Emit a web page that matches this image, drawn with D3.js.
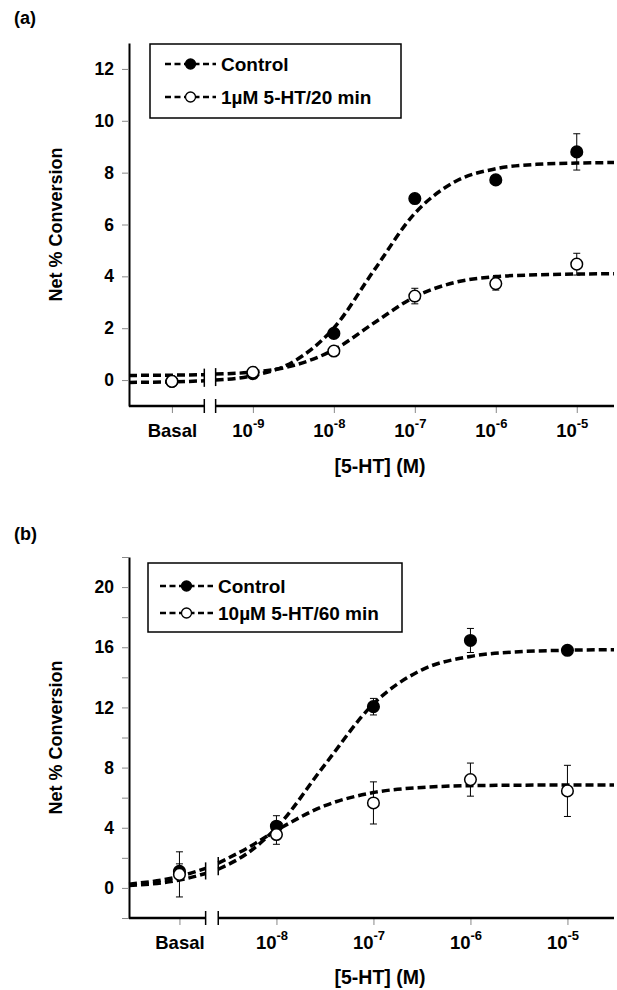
<!DOCTYPE html>
<html lang="en">
<head>
<meta charset="utf-8">
<script src="https://cdnjs.cloudflare.com/ajax/libs/d3/7.8.5/d3.min.js"></script>
<style>
  body { margin: 0; background: #fff; }
  text { font-family: "Liberation Sans", Arial, sans-serif; font-weight: bold; fill: #000; }
</style>
</head>
<body>
<div id="container"></div>
<script>
// ---- data (x values are log10 [5-HT]; Basal sits one decade left of the first dose) ----
var aDoseX = [-10, -9, -8, -7, -6, -5];
var aTickLabels = ["Basal", "-9", "-8", "-7", "-6", "-5"];
var aControl = [-0.05, 0.25, 1.8, 7.0, 7.72, 8.8];
var aControlErr = [0.1, 0.05, 0.15, 0.15, 0.15, 0.7];
var aTreated = [-0.05, 0.3, 1.12, 3.24, 3.72, 4.47];
var aTreatedErr = [0.15, 0.1, 0.15, 0.3, 0.25, 0.42];
var aFitX = [-10.53, -10, -9.6, -9.46, -9, -8.5, -8, -7.5, -7, -6.5, -6, -5.5, -5, -4.54];
var aControlFit = [-0.09, -0.07, -0.03, 0.0, 0.17, 0.71, 2.01, 4.25, 6.43, 7.66, 8.15, 8.32, 8.37, 8.39];
var aTreatedFit = [0.18, 0.19, 0.21, 0.23, 0.31, 0.56, 1.17, 2.21, 3.21, 3.77, 3.99, 4.06, 4.09, 4.1];
var aYTicks = [0, 2, 4, 6, 8, 10, 12];
var aLegend = ["Control", "1\u00b5M 5-HT/20 min"];

var bDoseX = [-9, -8, -7, -6, -5];
var bTickLabels = ["Basal", "-8", "-7", "-6", "-5"];
var bControl = [1.1, 4.1, 12.05, 16.45, 15.8];
var bControlErr = [0.5, 0.7, 0.55, 0.8, 0.2];
var bTreated = [0.9, 3.55, 5.65, 7.2, 6.45];
var bTreatedErr = [1.5, 0.65, 1.4, 1.1, 1.7];
var bFitX = [-9.52, -9, -8.73, -8.6, -8.3, -8, -7.5, -7, -6.5, -6, -5.5, -5, -4.52];
var bControlFit = [0.16, 0.52, 0.96, 1.24, 2.3, 4.0, 8.2, 12.24, 14.5, 15.39, 15.7, 15.8, 15.84];
var bTreatedFit = [0.25, 0.77, 1.3, 1.65, 2.65, 3.82, 5.47, 6.34, 6.68, 6.8, 6.83, 6.84, 6.85];
var bYTicks = [-2, 0, 2, 4, 6, 8, 10, 12, 14, 16, 18, 20, 22];
var bYLabels = [0, 4, 8, 12, 16, 20];
var bLegend = ["Control", "10\u00b5M 5-HT/60 min"];

var w = 617, h = 990;
var svg = d3.select("#container").append("svg")
    .attr("width", w).attr("height", h);

function drawPanel(p) {
    var g = svg.append("g");
    var x = d3.scaleLinear().domain(p.xDomain).range([129, 614]);
    var y = d3.scaleLinear().domain(p.yDomain).range([p.bottom, p.top]);

    g.append("text").attr("x", 14).attr("y", p.labelY)
        .attr("font-size", 18).text(p.label);

    // y axis
    var yAxis = g.append("g").attr("transform", "translate(129,0)")
        .call(d3.axisLeft(y).tickValues(p.yTicks).tickSize(7).tickSizeOuter(0).tickPadding(8)
            .tickFormat(function(d) { return p.yLabels.indexOf(d) >= 0 ? d : ""; }));
    yAxis.select(".domain").attr("stroke", "#000").attr("stroke-width", 2);
    yAxis.selectAll(".tick line").attr("stroke", "#888").attr("stroke-width", 1);
    yAxis.selectAll(".tick text").attr("font-size", 17.5).attr("font-family", null);

    // x axis (ticks only, domain drawn with the break)
    var xAxis = g.append("g").attr("transform", "translate(0," + p.bottom + ")")
        .call(d3.axisBottom(x).tickValues(p.doseX).tickSize(7).tickSizeOuter(0).tickPadding(10)
            .tickFormat(""));
    xAxis.select(".domain").remove();
    xAxis.selectAll(".tick line").attr("stroke", "#888").attr("stroke-width", 1);
    xAxis.selectAll(".tick").append("text")
        .attr("y", 31).attr("font-size", 18.5).attr("text-anchor", "middle")
        .each(function(d, i) {
            var t = d3.select(this), lab = p.tickLabels[i];
            if (lab === "Basal") { t.text("Basal"); return; }
            t.attr("dx", -5);
            t.append("tspan").text("10");
            t.append("tspan").attr("dy", -9).attr("font-size", 13).text(lab);
        });

    var b0 = x(p.brk[0]), b1 = x(p.brk[1]);
    g.append("line").attr("x1", 129).attr("x2", b0).attr("y1", p.bottom).attr("y2", p.bottom)
        .attr("stroke", "#000").attr("stroke-width", 2.5);
    g.append("line").attr("x1", b1).attr("x2", 614).attr("y1", p.bottom).attr("y2", p.bottom)
        .attr("stroke", "#000").attr("stroke-width", 2.5);
    [b0, b1].forEach(function(bx) {
        g.append("line").attr("x1", bx).attr("x2", bx)
            .attr("y1", p.bottom - 7).attr("y2", p.bottom + 7)
            .attr("stroke", "#000").attr("stroke-width", 1.5);
    });

    // fit curves, split at the axis break
    var line = d3.line().x(function(d) { return x(d[0]); }).y(function(d) { return y(d[1]); })
        .curve(d3.curveMonotoneX);
    [p.controlFit, p.treatedFit].forEach(function(fit) {
        var pts = p.fitX.map(function(v, i) { return [v, fit[i]]; });
        var left = pts.filter(function(d) { return d[0] <= p.brk[0] + 1e-9; });
        var right = pts.filter(function(d) { return d[0] >= p.brk[1] - 1e-9; });
        [left, right].forEach(function(seg) {
            g.append("path").attr("d", line(seg)).attr("fill", "none")
                .attr("stroke", "#000").attr("stroke-width", 3.5)
                .attr("stroke-dasharray", "8,4");
        });
    });
    // break marks across the curves
    [0, 1].forEach(function(k) {
        var idx = p.fitX.indexOf(p.brk[k]);
        var ys = [y(p.controlFit[idx]), y(p.treatedFit[idx])];
        var bx = k === 0 ? b0 : b1;
        g.append("line").attr("x1", bx).attr("x2", bx)
            .attr("y1", d3.min(ys) - 6).attr("y2", d3.max(ys) + 6)
            .attr("stroke", "#000").attr("stroke-width", 1.5);
    });

    // error bars and markers
    function series(vals, errs, fill) {
        var sg = g.append("g");
        vals.forEach(function(v, i) {
            var cx = x(p.doseX[i]);
            sg.append("line").attr("x1", cx).attr("x2", cx)
                .attr("y1", y(v - errs[i])).attr("y2", y(v + errs[i]))
                .attr("stroke", "#000").attr("stroke-width", 1);
            [v - errs[i], v + errs[i]].forEach(function(e) {
                sg.append("line").attr("x1", cx - 3.5).attr("x2", cx + 3.5)
                    .attr("y1", y(e)).attr("y2", y(e))
                    .attr("stroke", "#000").attr("stroke-width", 1);
            });
        });
        sg.selectAll("circle").data(vals).enter().append("circle")
            .attr("cx", function(d, i) { return x(p.doseX[i]); })
            .attr("cy", function(d) { return y(d); })
            .attr("r", 5.8)
            .attr("fill", fill).attr("stroke", "#000").attr("stroke-width", 1.5);
    }
    series(p.control, p.controlErr, "#000");
    series(p.treated, p.treatedErr, "#fff");

    // axis titles
    g.append("text").attr("transform", "translate(62," + ((p.top + p.bottom) / 2) + ") rotate(-90)")
        .attr("text-anchor", "middle").attr("font-size", 18).text("Net % Conversion");
    g.append("text").attr("x", 380).attr("y", p.titleY).attr("text-anchor", "middle")
        .attr("font-size", 19.5).text("[5-HT] (M)");

    // legend
    var L = p.legend;
    g.append("rect").attr("x", L.x).attr("y", L.y).attr("width", L.w).attr("height", L.h)
        .attr("fill", "#fff").attr("stroke", "#000").attr("stroke-width", 1.5);
    p.legendText.forEach(function(txt, i) {
        var ry = L.rows[i];
        g.append("line").attr("x1", L.sx0).attr("x2", L.sx1).attr("y1", ry).attr("y2", ry)
            .attr("stroke", "#000").attr("stroke-width", 2.5).attr("stroke-dasharray", "6,3.5");
        g.append("circle").attr("cx", (L.sx0 + L.sx1) / 2).attr("cy", ry).attr("r", 5)
            .attr("fill", i === 0 ? "#000" : "#fff").attr("stroke", "#000").attr("stroke-width", 1.3);
        g.append("text").attr("x", L.sx1 + 5).attr("y", ry).attr("dy", "0.36em")
            .attr("font-size", 19).text(txt);
    });
}

drawPanel({
    label: "(a)", labelY: 24, top: 43, bottom: 406, titleY: 473,
    xDomain: [-10.53, -4.54], yDomain: [-1, 13], brk: [-9.6, -9.46],
    doseX: aDoseX, tickLabels: aTickLabels, yTicks: aYTicks, yLabels: aYTicks,
    control: aControl, controlErr: aControlErr, treated: aTreated, treatedErr: aTreatedErr,
    fitX: aFitX, controlFit: aControlFit, treatedFit: aTreatedFit,
    legendText: aLegend,
    legend: { x: 150, y: 44, w: 251, h: 74, rows: [64, 97], sx0: 165, sx1: 216 }
});

drawPanel({
    label: "(b)", labelY: 540, top: 557, bottom: 918, titleY: 984,
    xDomain: [-9.52, -4.52], yDomain: [-2, 22], brk: [-8.73, -8.6],
    doseX: bDoseX, tickLabels: bTickLabels, yTicks: bYTicks, yLabels: bYLabels,
    control: bControl, controlErr: bControlErr, treated: bTreated, treatedErr: bTreatedErr,
    fitX: bFitX, controlFit: bControlFit, treatedFit: bTreatedFit,
    legendText: bLegend,
    legend: { x: 148, y: 563, w: 254, h: 69, rows: [586, 613], sx0: 160, sx1: 213 }
});
</script>
</body>
</html>
